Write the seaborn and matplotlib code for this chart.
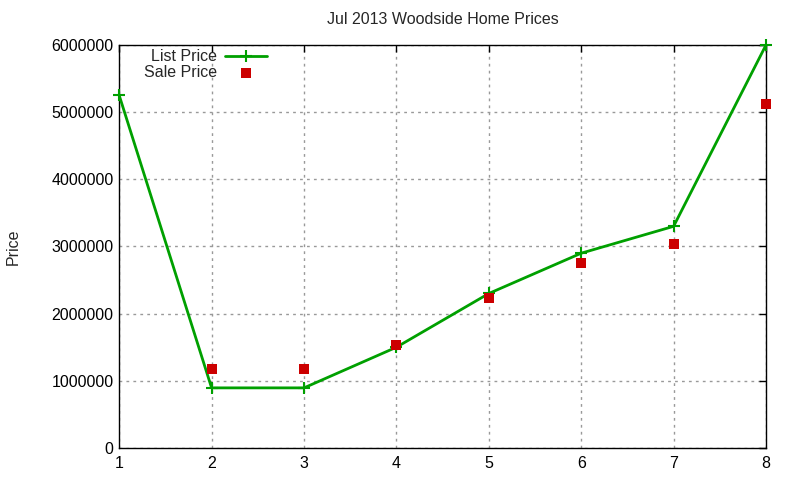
import pandas as pd
import numpy as np
import matplotlib
matplotlib.use('Agg')
import matplotlib.pyplot as plt
import seaborn as sns
from matplotlib.ticker import FuncFormatter

## Data
months = [1, 2, 3, 4, 5, 6, 7, 8]
list_price = [5250000, 895000, 895000, 1500000, 2300000, 2900000, 3300000, 6000000]
sale_price = [None, 1170000, 1170000, 1530000, 2230000, 2750000, 3040000, 5120000]

df = pd.DataFrame({'month': months, 'list': list_price, 'sale': sale_price})

sns.set_style('white')
plt.rcParams['font.family'] = ['Liberation Sans', 'DejaVu Sans']

fig = plt.figure(figsize=(8, 4.8), dpi=100)
ax = fig.add_axes([0.149, 0.0667, 0.8085, 0.8396])

green = '#00a000'
red = '#cc0000'
sns.lineplot(data=df, x='month', y='list', ax=ax, color=green, linewidth=2,
             marker='+', markersize=8, markeredgewidth=1.5,
             markeredgecolor=green, label='List Price', clip_on=False, zorder=3)
sns.scatterplot(data=df.dropna(), x='month', y='sale', ax=ax, color=red,
                marker='s', s=50, linewidth=0, label='Sale Price', zorder=4,
                clip_on=False)

ax.set_xlim(1, 8)
ax.set_ylim(0, 6000000)
ax.set_xticks(months)
ax.set_yticks(np.arange(0, 6000001, 1000000))
ax.yaxis.set_major_formatter(FuncFormatter(lambda v, p: f'{int(v)}'))

ax.grid(True, linestyle=(0, (2, 3)), color='#999999', linewidth=1)
ax.set_axisbelow(True)
for sp in ax.spines.values():
    sp.set_color('black')
    sp.set_linewidth(1)
ax.tick_params(direction='in', length=5, width=1, top=True, right=True,
               labelsize=11.5, colors='black', pad=4)
ax.tick_params(axis='x', pad=6)

ax.set_title('Jul 2013 Woodside Home Prices', fontsize=11.5, pad=15)
ax.set_xlabel('')
ax.set_ylabel('Price', fontsize=11.5, labelpad=22)

leg = ax.legend(loc='upper left', bbox_to_anchor=(0.029, 1.005), frameon=False,
                markerfirst=False, fontsize=11.5, handlelength=2.6,
                labelspacing=0.05, handletextpad=0.5, borderaxespad=0)

fig.savefig('out.png', dpi=100)
